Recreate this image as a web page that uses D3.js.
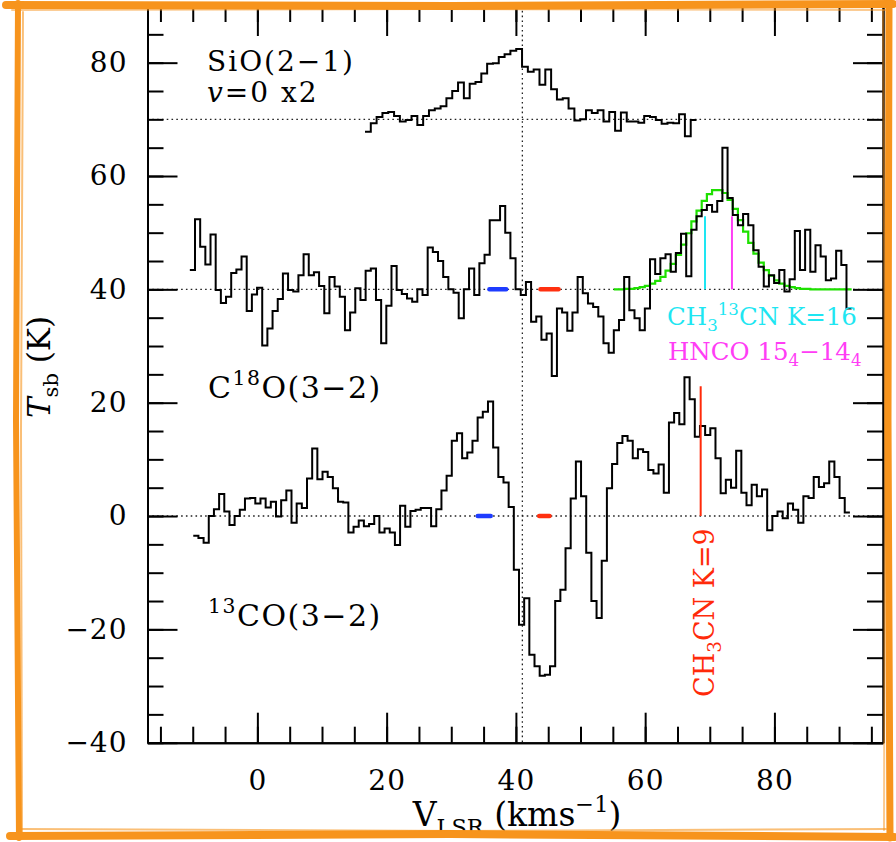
<!DOCTYPE html>
<html><head><meta charset="utf-8">
<script src="https://cdn.jsdelivr.net/npm/d3@7"></script>
<style>
html,body{margin:0;padding:0;background:#fff;}
svg{display:block;}
text{font-family:"DejaVu Serif",serif;}
</style></head><body>
<svg id="chart" width="896" height="842"></svg>
<script>
// ---- channel grids (km/s): first channel edge and channel width ----
const sioStart = 16.65, sioWidth = 0.9;
const c18oStart = -10.45, c18oWidth = 0.8;
const co13Start = -9.92, co13Width = 0.8;

// ---- baselines each spectrum is offset to (K) ----
const sioBaseline = 70, c18oBaseline = 40, co13Baseline = 0;

// SiO(2-1) v=0, shown scaled x2, K above its baseline
const sioValues = [-2.2, -0.7, 0.4, 1.1, 1.3, 0.6, -0.4, -0.1, 0.6, -1.0, 0.6, 1.6, 1.9, 2.3, 3.7, 5.0, 6.5, 3.7, 6.3, 6.6,
  8.1, 9.8, 9.9, 11.0, 11.5, 12.1, 12.4, 9.3, 8.4, 8.8, 6.1, 8.8, 5.3, 3.5, 3.7, 1.9, -0.2, 0, 1.6, 1.1,
  1.6, -0.4, 1.3, -2.0, 1.2, -0.4, -0.4, -0.6, 0.6, 0.4, -0.1, -0.8, -0.6, -0.7, 0.9, -3.0, -0.1];

// C18O(3-2), K above its baseline
const c18oValues = [3.4, 12.35, 7.5, 4.4, 9.7, -0.1, -2.4, -1.3, 2.9, 3.5, 5.8, -3.8, -0.9, 0.3, -9.9, -6.9, -3.8, -1.7, 2.8, -0.1,
  -0.4, 2.5, 6.2, 2.5, 3.0, 0.6, -4.2, 2.2, 0.5, -1.3, -7.2, -4.1, 0.2, -1.9, 3.3, 3.7, -1.9, -9.5, -2.9, 4.1,
  -0.1, -0.8, -1.6, -2.2, 0, -1.0, 7.4, 6.6, 5.0, 2.2, 0, -0.6, -5.1, 0, 3.7, -1.0, 4.6, 6.1, 12.2, 12.2,
  14.7, 10.0, 5.5, 0, -1.0, 1.3, -5.7, -4.8, -8.9, -7.8, -15.3, -3.4, -4.1, -7.3, -4.1, 2.2, -0.7, -2.5, -3.1, -4.8,
  -9.5, -11.2, -7.2, -5.4, 2.2, -3.7, -5.1, -7.2, -3.4, 5.3, 2.7, 5.5, 6.2, 3.1, 6.4, 9.8, 2.3, 10.5, 12.9, 14.0,
  14.9, 13.7, 15.6, 25.0, 16.1, 13.1, 11.3, 13.3, 11.3, 6.9, 4.0, 0.5, 2.5, 1.1, 3.4, -0.4, 1.8, 10.3, 3.4, 10.5,
  3.1, 7.8, 5.8, 1.6, 1.9, 6.8, 4.3, -3.4];

// 13CO(3-2), K
const co13Values = [-3.5, -3.9, -4.7, 0, 1.2, 3.9, 0.8, -1.6, 0, 1.1, 3.1, 3.2, 2.2, 3.1, 1.5, 2.5, -0.1, 2.8, 4.5, -1.2,
  2.2, 1.4, 6.6, 11.9, 6.5, 7.8, 6.9, 4.9, 2.5, 2.4, -2.9, -1.9, -0.8, -1.8, -1.4, 0, -2.9, -2.2, -2.9, -5.1,
  1.8, -1.9, 0.9, 1.1, 1.4, 1.4, -1.8, 1.2, 4.5, 7.1, 13.3, 14.6, 10.2, 11.2, 13.3, 17.4, 18.4, 20.2, 12.1, 6.9,
  5.9, 1.6, -9.5, -19.2, -14.5, -24.5, -26.5, -28.2, -28.0, -26.5, -15, -13, -5.7, 3.1, 9.6, 3.5, -6.5, -15, -18, -7.9,
  4.9, 9.2, 12.9, 14.1, 13.3, 10.2, 11.8, 11.3, 8.1, 7.5, 9.1, 4.1, 16.5, 18.2, 16.2, 24.5, 20.6, 14.0, 15.9, 14.3,
  15.5, 10.2, 4.0, 6.4, 5.0, 11.5, 4.1, 1.9, 5.5, 3.5, 4.7, -2.5, 0, 0.8, -0.4, 2.2, 1.1, -1.2, 3.5, 3.2,
  6.9, 5.1, 5.8, 9.6, 6.9, 3.2, 0.6];

// Gaussian fit to the C18O-band feature, on the C18O grid from channel index fitFirstChannel
const fitFirstChannel = 82;
const fitValues = [0.0, 0.0, 0.1, 0.1, 0.2, 0.4, 0.6, 1.0, 1.5, 2.2, 3.3, 4.5, 6.1, 7.9, 9.9, 12.0, 13.9, 15.6, 16.8, 17.5,
  17.5, 17.0, 15.8, 14.2, 12.2, 10.2, 8.2, 6.3, 4.7, 3.4, 2.4, 1.6, 1.0, 0.6, 0.4, 0.2, 0.1, 0.1, 0.0, 0.0,
  0.0, 0.0, 0.0, 0.0, 0.0, 0.0];

// line identifications: velocity (km/s), bottom and top (K)
const ch313cnLine = {v: 69.26, from: 40, to: 52.9};
const hncoLine = {v: 73.43, from: 40, to: 52.9};
const ch3cnLine = {v: 68.59, from: 0, to: 22.9};

// velocity ranges marked on the baselines
const c18oBlue = [35.9, 38.5], c18oRed = [43.8, 46.6];
const co13Blue = [34.1, 36.1], co13Red = [43.6, 45.2];

// reference velocity
const vRef = 41.0;

// axis ticks
const xMajor = [0, 20, 40, 60, 80];
const xMinor = d3.range(-15, 96, 5);
const yMajor = [-40, -20, 0, 20, 40, 60, 80];
const yMinor = d3.range(-40, 91, 5);

const svg = d3.select("#chart");
svg.append("rect").attr("width", 896).attr("height", 842).attr("fill", "#fff");

const x = d3.scaleLinear().domain([-17, 96.8]).range([147.5, 883]);
const y = d3.scaleLinear().domain([-40, 90]).range([742.7, 6]);
const [x0, x1] = x.range();
const [yb, yt] = y.range();

// dotted reference lines
const dots = svg.append("g").attr("stroke", "#222").attr("stroke-width", 1.3).attr("stroke-dasharray", "1.6,3.2");
[co13Baseline, c18oBaseline, sioBaseline].forEach(b => {
  dots.append("line").attr("x1", x0).attr("x2", x1).attr("y1", y(b)).attr("y2", y(b));
});
dots.append("line").attr("x1", x(vRef)).attr("x2", x(vRef)).attr("y1", yt).attr("y2", yb);

// spectra as histograms
function histogram(start, width, values, offset) {
  const pts = values.map((v, i) => [start + i * width, v + offset]);
  pts.push([start + values.length * width, values[values.length - 1] + offset]);
  return d3.line().x(d => x(d[0])).y(d => y(d[1])).curve(d3.curveStepAfter)(pts);
}
const spec = svg.append("g").attr("fill", "none").attr("stroke-linejoin", "miter");
spec.append("path").attr("d", histogram(c18oStart + fitFirstChannel * c18oWidth, c18oWidth, fitValues, c18oBaseline))
  .attr("stroke", "#1EE000").attr("stroke-width", 2.2);
spec.append("path").attr("d", histogram(sioStart, sioWidth, sioValues, sioBaseline)).attr("stroke", "#000").attr("stroke-width", 2);
spec.append("path").attr("d", histogram(c18oStart, c18oWidth, c18oValues, c18oBaseline)).attr("stroke", "#000").attr("stroke-width", 2);
spec.append("path").attr("d", histogram(co13Start, co13Width, co13Values, co13Baseline)).attr("stroke", "#000").attr("stroke-width", 2);

// line markers
const marks = svg.append("g").attr("stroke-width", 2);
[[ch313cnLine, "#1EE6F2"], [hncoLine, "#FF3DF5"], [ch3cnLine, "#FF2A0A"]].forEach(([l, c]) => {
  marks.append("line").attr("x1", x(l.v)).attr("x2", x(l.v)).attr("y1", y(l.from)).attr("y2", y(l.to)).attr("stroke", c);
});
const ranges = svg.append("g").attr("stroke-width", 4.5).attr("stroke-linecap", "round");
[[c18oBlue, c18oBaseline, "#1E3CFF"], [c18oRed, c18oBaseline, "#FF3010"], [co13Blue, co13Baseline, "#1E3CFF"], [co13Red, co13Baseline, "#FF3010"]]
  .forEach(([r, b, c]) => {
    ranges.append("line").attr("x1", x(r[0])).attr("x2", x(r[1])).attr("y1", y(b)).attr("y2", y(b)).attr("stroke", c);
  });

// axes: major and minor ticks drawn inward on all four sides
function styleAxis(sel) {
  sel.selectAll("path,line").attr("stroke", "#000").attr("stroke-width", 2);
  sel.selectAll("text").attr("font-size", 28).attr("letter-spacing", 1).attr("fill", "#000")
    .attr("font-family", '"DejaVu Serif",serif');
}
const axes = svg.append("g");
axes.append("g").attr("transform", `translate(0,${yb})`)
  .call(d3.axisBottom(x).tickValues(xMinor).tickSizeInner(-16).tickSizeOuter(0).tickFormat("")).call(styleAxis);
axes.append("g").attr("transform", `translate(0,${yb})`)
  .call(d3.axisBottom(x).tickValues(xMajor).tickSizeInner(-30).tickSizeOuter(0).tickPadding(27)).call(styleAxis);
axes.append("g").attr("transform", `translate(0,${yt})`)
  .call(d3.axisTop(x).tickValues(xMinor).tickSizeInner(-16).tickSizeOuter(0).tickFormat("")).call(styleAxis);
axes.append("g").attr("transform", `translate(0,${yt})`)
  .call(d3.axisTop(x).tickValues(xMajor).tickSizeInner(-30).tickSizeOuter(0).tickFormat("")).call(styleAxis);
axes.append("g").attr("transform", `translate(${x0},0)`)
  .call(d3.axisLeft(y).tickValues(yMinor).tickSizeInner(-16).tickSizeOuter(0).tickFormat("")).call(styleAxis);
axes.append("g").attr("transform", `translate(${x0},0)`)
  .call(d3.axisLeft(y).tickValues(yMajor).tickSizeInner(-30).tickSizeOuter(0).tickPadding(20)).call(styleAxis);
axes.append("g").attr("transform", `translate(${x1},0)`)
  .call(d3.axisRight(y).tickValues(yMinor).tickSizeInner(-16).tickSizeOuter(0).tickFormat("")).call(styleAxis);
axes.append("g").attr("transform", `translate(${x1},0)`)
  .call(d3.axisRight(y).tickValues(yMajor).tickSizeInner(-30).tickSizeOuter(0).tickFormat("")).call(styleAxis);

// text helpers
function label(parent, px, py, size, color, parts, anchor, spacing) {
  const t = parent.append("text").attr("x", px).attr("y", py).attr("font-size", size).attr("fill", color)
    .attr("text-anchor", anchor || "start").attr("letter-spacing", spacing || 0);
  let shift = 0;
  parts.forEach(p => {
    const ts = t.append("tspan").text(p.t);
    let target = 0;
    if (p.sub) { ts.attr("font-size", size * 0.68); target = size * 0.26; }
    if (p.sup) { ts.attr("font-size", size * 0.68); target = -size * 0.42; }
    if (p.it) ts.attr("font-style", "italic");
    ts.attr("dy", target - shift);
    shift = target;
  });
  return t;
}
const txt = svg.append("g");
label(txt, 207, 71, 28, "#000", [{t: "SiO(2\u22121)"}], "start", 2);
label(txt, 207, 102, 28, "#000", [{t: "v", it: true}, {t: "=0 x2"}], "start", 2);
label(txt, 208, 398, 30, "#000", [{t: "C"}, {t: "18", sup: true}, {t: "O(3\u22122)"}], "start", 1.5);
label(txt, 208, 626, 30, "#000", [{t: "13", sup: true}, {t: "CO(3\u22122)"}], "start", 1.5);
label(txt, 667, 325, 24.5, "#1EE6F2", [{t: "CH"}, {t: "3", sub: true}, {t: "13", sup: true}, {t: "CN K=16"}]);
label(txt, 668, 360, 24.5, "#FF3DF5", [{t: "HNCO 15"}, {t: "4", sub: true}, {t: "\u221214"}, {t: "4", sub: true}]);
const red = txt.append("g").attr("transform", "translate(714,697) rotate(-90)");
label(red, 0, 0, 27, "#FF2A0A", [{t: "CH"}, {t: "3", sub: true}, {t: "CN K=9"}]);
label(txt, 517, 826, 33, "#000", [{t: "V"}, {t: "LSR", sub: true}, {t: " (kms"}, {t: "\u22121", sup: true}, {t: ")"}], "middle");
const yl = txt.append("g").attr("transform", "translate(50,367) rotate(-90)");
label(yl, 0, 0, 31, "#000", [{t: "T", it: true}, {t: "sb", sub: true}, {t: " (K)"}], "middle");

// sketched orange frame
const frame = svg.append("g").attr("fill", "none").attr("stroke", "#F7941D").attr("stroke-linecap", "round");
const sk = d3.line().curve(d3.curveLinear);
[
  [[[6, 5], [450, 6], [893, 4]], 8, 1],
  [[[12, 10], [440, 9], [888, 10]], 2, 0.5],
  [[[18, 3], [16, 420], [19, 838]], 6, 1],
  [[[23, 12], [21, 430], [22, 832]], 2, 0.6],
  [[[889, 3], [888, 420], [890, 838]], 7, 1],
  [[[883, 10], [885, 430], [884, 830]], 2, 0.5],
  [[[10, 836], [450, 834], [894, 837]], 8, 1],
  [[[20, 829], [460, 831], [886, 829]], 2, 0.6]
].forEach(([p, w, o]) => frame.append("path").attr("d", sk(p)).attr("stroke-width", w).attr("opacity", o));
</script>
</body></html>
